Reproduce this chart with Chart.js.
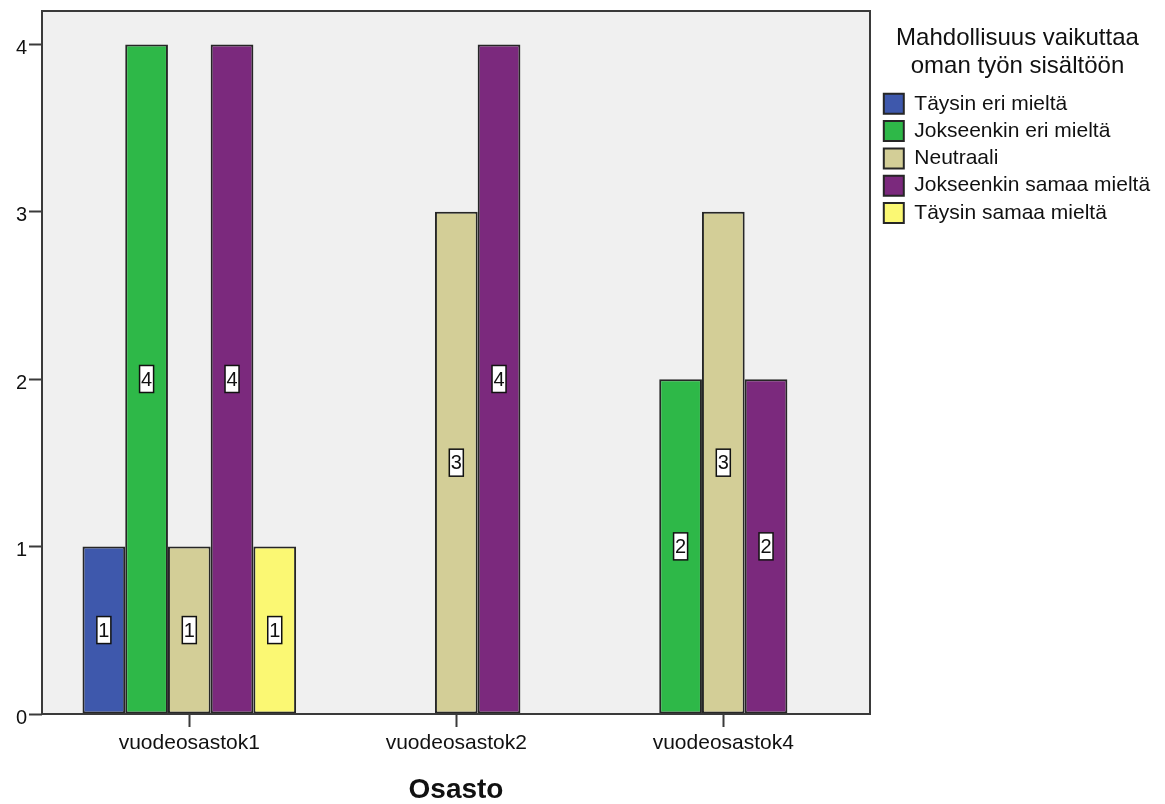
<!DOCTYPE html>
<html>
<head>
<meta charset="utf-8">
<script src="https://cdn.jsdelivr.net/npm/chart.js@4/dist/chart.umd.min.js"></script>
<style>
  html, body { margin: 0; padding: 0; background: #ffffff; }
  #wrap { width: 1165px; height: 804px; }
</style>
</head>
<body>
<div id="wrap"><canvas id="chart" width="1165" height="804"></canvas></div>
<script>
// Osastot (x-akselin luokat)
const categories = ['vuodeosastok1', 'vuodeosastok2', 'vuodeosastok4'];

// Vastausvaihtoehdot
const seriesNames = [
  'Täysin eri mieltä',
  'Jokseenkin eri mieltä',
  'Neutraali',
  'Jokseenkin samaa mieltä',
  'Täysin samaa mieltä'
];

// Vastausten lukumäärät osastoittain
const taysinEriMielta = [1, 0, 0];
const jokseenkinEriMielta = [4, 0, 2];
const neutraali = [1, 3, 3];
const jokseenkinSamaaMielta = [4, 4, 2];
const taysinSamaaMielta = [1, 0, 0];

const yTickValues = [0, 1, 2, 3, 4];

const seriesValues = [taysinEriMielta, jokseenkinEriMielta, neutraali, jokseenkinSamaaMielta, taysinSamaaMielta];
const seriesColors = ['#3E58AC', '#2EB848', '#D3CE97', '#7B297D', '#FBF873'];

const FONT = "'Liberation Sans', Arial, sans-serif";
Chart.defaults.font.family = FONT;
Chart.defaults.color = '#111111';

const datasets = seriesNames.map((name, s) => ({
  label: name,
  data: seriesValues[s].map((v, i) => ({ x: i, y: v > 0 ? v : null })),
  backgroundColor: seriesColors[s],
  borderColor: '#262626',
  borderWidth: 2,
  borderSkipped: false,
  categoryPercentage: 0.8,
  barPercentage: 1.0
}));

// Harmaa piirtoalue ja kehys
const plotFrame = {
  id: 'plotFrame',
  beforeDraw(chart) {
    const { ctx, chartArea: a } = chart;
    ctx.save();
    ctx.fillStyle = '#ffffff';
    ctx.fillRect(0, 0, chart.width, chart.height);
    ctx.fillStyle = '#F0F0F0';
    ctx.fillRect(a.left, a.top, a.right - a.left, a.bottom - a.top);
    ctx.restore();
  },
  afterDatasetsDraw(chart) {
    const { ctx, chartArea: a } = chart;
    ctx.save();
    ctx.strokeStyle = '#3a3a3a';
    ctx.lineWidth = 2;
    ctx.strokeRect(a.left, a.top, a.right - a.left, a.bottom - a.top);
    ctx.restore();
  }
};

// Pylväiden arvotunnisteet valkoisissa laatikoissa
const valueBoxes = {
  id: 'valueBoxes',
  afterDatasetsDraw(chart) {
    const { ctx } = chart;
    ctx.save();
    ctx.font = '20px ' + FONT;
    ctx.textAlign = 'center';
    ctx.textBaseline = 'middle';
    chart.data.datasets.forEach((ds, di) => {
      const meta = chart.getDatasetMeta(di);
      meta.data.forEach((el, i) => {
        const v = ds.data[i].y;
        if (v === null || v === undefined) return;
        const cx = el.x;
        const cy = (el.y + el.base) / 2;
        const w = 14, h = 27;
        ctx.fillStyle = '#ffffff';
        ctx.fillRect(cx - w / 2, cy - h / 2, w, h);
        ctx.strokeStyle = '#111111';
        ctx.lineWidth = 1.5;
        ctx.strokeRect(cx - w / 2, cy - h / 2, w, h);
        ctx.fillStyle = '#111111';
        ctx.fillText(String(v), cx, cy + 1);
      });
    });
    ctx.restore();
  }
};

new Chart(document.getElementById('chart'), {
  type: 'bar',
  data: { datasets },
  options: {
    responsive: false,
    animation: false,
    layout: { padding: { top: 11, left: 0, bottom: 0, right: 7.5 } },
    plugins: {
      tooltip: { enabled: false },
      legend: {
        position: 'right',
        align: 'start',
        maxWidth: 280,
        title: {
          display: true,
          text: ['Mahdollisuus vaikuttaa', 'oman työn sisältöön'],
          position: 'center',
          color: '#111111',
          font: { size: 24, lineHeight: 28 / 24 },
          padding: { top: 15, bottom: 33 }
        },
        labels: {
          boxWidth: 20,
          boxHeight: 20,
          padding: 6.3,
          color: '#111111',
          font: { size: 21 }
        }
      }
    },
    scales: {
      x: {
        type: 'linear',
        min: -0.5517,
        max: 2.5494,
        offset: false,
        border: { display: false },
        grid: {
          offset: false,
          drawOnChartArea: false,
          drawTicks: true,
          tickLength: 13,
          tickWidth: 2,
          tickColor: '#3a3a3a'
        },
        afterBuildTicks(scale) {
          scale.ticks = categories.map((_, i) => ({ value: i }));
        },
        ticks: {
          font: { size: 21 },
          color: '#111111',
          padding: 4,
          maxRotation: 0,
          autoSkip: false,
          callback: (v) => categories[v]
        },
        title: {
          display: true,
          text: 'Osasto',
          color: '#111111',
          font: { size: 28, weight: 'bold', lineHeight: 1 },
          padding: { top: 0, bottom: 0 }
        },
        afterFit(scale) {
          scale.height = 90;
          scale.paddingLeft = 0;
          scale.paddingRight = 0;
        }
      },
      y: {
        min: 0,
        max: 4.2,
        border: { display: false },
        grid: {
          drawOnChartArea: false,
          drawTicks: true,
          tickLength: 13,
          tickWidth: 2,
          tickColor: '#3a3a3a'
        },
        afterBuildTicks(scale) {
          scale.ticks = yTickValues.map(v => ({ value: v }));
        },
        ticks: {
          font: { size: 20 },
          color: '#111111',
          padding: 2,
          labelOffset: 4
        },
        afterFit(scale) {
          scale.width = 42;
          scale.paddingTop = 0;
          scale.paddingBottom = 0;
        }
      },
      gap: {
        type: 'linear',
        position: 'right',
        display: true,
        grid: { display: false },
        border: { display: false },
        ticks: { display: false },
        afterFit(scale) {
          scale.width = 7.5;
          scale.paddingTop = 0;
          scale.paddingBottom = 0;
        }
      }
    }
  },
  plugins: [plotFrame, valueBoxes]
});
</script>
</body>
</html>
